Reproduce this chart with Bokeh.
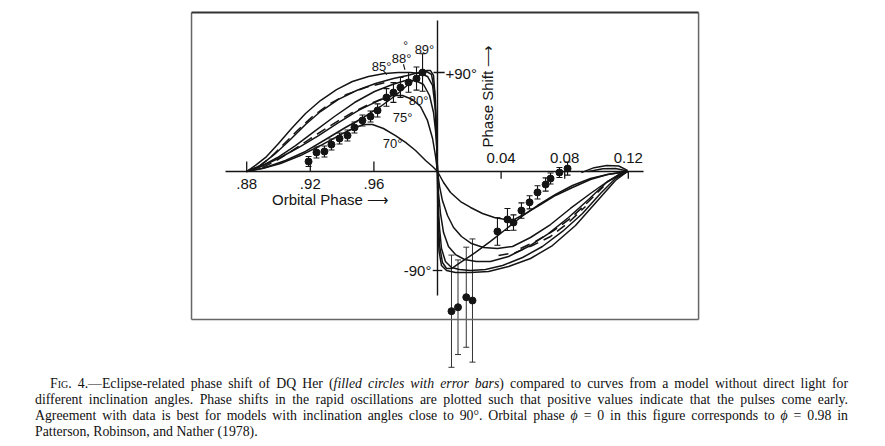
import numpy as np
from bokeh.plotting import figure
from bokeh.models import Range1d, ColumnDataSource, Whisker, TeeHead, Div
from bokeh.layouts import column
from bokeh.core.properties import value
from bokeh.embed import file_html
from bokeh.resources import INLINE

# ---------------- observed phase shifts (orbital phase, degrees, error) ----------------
obs_phase = [-0.0811, -0.0761, -0.0711, -0.0667, -0.0616, -0.0566, -0.0522, -0.0472,
             -0.0421, -0.0377, -0.0321, -0.0277, -0.0233, -0.0182, -0.0132, -0.0094,
             0.0377, 0.0440, 0.0478, 0.0528, 0.0579, 0.0629, 0.0680, 0.0711, 0.0767, 0.0818]
obs_shift = [9.1, 17.3, 18.2, 24.5, 30.0, 32.7, 40.0, 46.4, 50.0, 55.5, 67.3, 71.8, 76.4, 81.0, 84.5, 90.0,
             -54.5, -43.6, -46.4, -35.5, -28.0, -19.0, -11.8, -6.4, -0.9, 2.7]
obs_err = [4.5, 5, 5, 5, 5, 5, 5, 5, 5, 6, 8, 9, 9, 9, 10.5, 17,
           12.5, 10, 7, 7, 6, 6, 6, 5, 4.5, 6]

# points just after mid-eclipse (large errors)
low_phase = [0.0088, 0.0129, 0.0181, 0.0220]
low_shift = [-127.0, -123.4, -114.3, -117.3]
low_err = [51, 43, 45.5, 56]

# ---------------- model curves (orbital phase, phase shift in degrees) ----------------
# ingress side (negative orbital phase)
i70_in_phase = [-0.1201, -0.1101, -0.0987, -0.0862, -0.0736, -0.0610, -0.0516, -0.0465, -0.0409,
                -0.0340, -0.0264, -0.0201, -0.0138, -0.0075, -0.0031, 0.0]
i70_in_shift = [0, 2.7, 7.3, 14.5, 23.6, 33.6, 40.0, 42.7, 42.7, 39.1, 32.7, 26.4, 19.1, 10.0, 4.5, 0]

i75_in_phase = [-0.1201, -0.1113, -0.1000, -0.0874, -0.0748, -0.0623, -0.0497, -0.0371, -0.0283,
                -0.0220, -0.0157, -0.0107, -0.0063, -0.0031, -0.0013, 0.0]
i75_in_shift = [0, 4.5, 11.8, 21.8, 32.7, 44.5, 55.5, 64.5, 69.1, 69.1, 65.5, 59.1, 46.4, 30.0, 14.5, 0]

i80_in_phase = [-0.1201, -0.1113, -0.1006, -0.0893, -0.0774, -0.0648, -0.0522, -0.0396, -0.0283,
                -0.0201, -0.0138, -0.0088, -0.0050, -0.0025, -0.0006, 0.0]
i80_in_shift = [0, 4.5, 12.7, 23.6, 36.4, 50.0, 62.7, 72.7, 79.1, 82.7, 82.7, 79.1, 69.1, 53.6, 28.2, 0]

i85_in_phase = [-0.1201, -0.1145, -0.1075, -0.1000, -0.0918, -0.0830, -0.0736, -0.0635, -0.0535,
                -0.0434, -0.0333, -0.0245, -0.0170, -0.0107, -0.0063, -0.0031, -0.0013, 0.0]
i85_in_shift = [0, 5.5, 13.6, 25.5, 39.1, 52.7, 64.5, 74.5, 81.8, 86.4, 89.1, 90.0, 90.0, 89.1,
                86.4, 78.2, 55.5, 0]

i88_in_phase = [-0.1201, -0.1113, -0.1019, -0.0925, -0.0830, -0.0736, -0.0623, -0.0509, -0.0390,
                -0.0277, -0.0189, -0.0119, -0.0069, -0.0038, -0.0019, -0.0006, 0.0]
i88_in_shift = [0, 5.5, 16.4, 29.1, 42.7, 54.5, 65.5, 73.6, 80.0, 84.5, 87.3, 90.0, 90.9, 88.2,
                73.6, 37.3, 0]

i89_in_phase = [-0.1201, -0.1082, -0.0956, -0.0830, -0.0704, -0.0579, -0.0465, -0.0358, -0.0264,
                -0.0170, -0.0107, -0.0069, -0.0044, -0.0025, -0.0013, -0.0006, 0.0]
i89_in_shift = [0, 3.6, 10.0, 18.2, 29.1, 40.0, 49.1, 59.1, 69.1, 80.9, 88.2, 91.8, 91.8, 87.3,
                64.5, 28.2, 0]

dashA_in_phase = [-0.1126, -0.1050, -0.0969, -0.0881, -0.0786, -0.0686, -0.0572, -0.0453, -0.0327]
dashA_in_shift = [4.5, 12.7, 24.5, 37.3, 50.0, 60.9, 70.0, 76.4, 80.9]
dashB_in_phase = [-0.1101, -0.1013, -0.0912, -0.0799, -0.0673, -0.0547, -0.0421, -0.0296]
dashB_in_shift = [3.6, 10.0, 19.1, 30.0, 41.8, 52.7, 61.8, 69.1]

# egress side (positive orbital phase)
i70_eg_phase = [0.0, 0.0038, 0.0082, 0.0145, 0.0208, 0.0283, 0.0358, 0.0428, 0.0484, 0.0553,
                0.0648, 0.0742, 0.0849, 0.0962, 0.1069, 0.1151, 0.1195]
i70_eg_shift = [0, -10.0, -19.1, -27.3, -32.7, -38.2, -41.8, -43.6, -43.6, -38.2, -30.0, -21.8,
                -14.5, -7.3, -2.7, -0.9, 0]

i75_eg_phase = [0.0, 0.0013, 0.0031, 0.0063, 0.0101, 0.0151, 0.0214, 0.0289, 0.0377, 0.0472,
                0.0585, 0.0711, 0.0836, 0.0962, 0.1069, 0.1151, 0.1195]
i75_eg_shift = [0, -13.6, -26.4, -40.0, -50.9, -59.1, -65.5, -69.1, -70.0, -68.2, -60.0, -48.2,
                -33.6, -20.0, -9.1, -2.7, 0]

i80_eg_phase = [0.0, 0.0006, 0.0019, 0.0038, 0.0069, 0.0113, 0.0170, 0.0245, 0.0333, 0.0447,
                0.0572, 0.0698, 0.0824, 0.0950, 0.1063, 0.1151, 0.1195]
i80_eg_shift = [0, -19.1, -38.2, -55.5, -68.2, -75.5, -80.0, -81.8, -81.8, -77.3, -68.2, -56.4,
                -41.8, -25.5, -10.0, -1.8, 0]

i85_eg_phase = [0.0, 0.0003, 0.0013, 0.0025, 0.0050, 0.0088, 0.0138, 0.0208, 0.0302, 0.0409,
                0.0535, 0.0660, 0.0786, 0.0912, 0.1025, 0.1119, 0.1195]
i85_eg_shift = [0, -26.4, -51.8, -70.0, -81.8, -87.3, -89.1, -90.0, -89.1, -85.5, -78.2, -68.2,
                -54.5, -38.2, -20.0, -6.4, 0]

i88_eg_phase = [0.0, 0.0003, 0.0013, 0.0031, 0.0057, 0.0088, 0.0145, 0.0239, 0.0333, 0.0428,
                0.0522, 0.0629, 0.0742, 0.0849, 0.0962, 0.1069, 0.1151, 0.1195]
i88_eg_shift = [0, -35.5, -67.3, -82.7, -88.2, -88.2, -82.7, -73.6, -63.6, -52.7, -41.8, -30.9,
                -20.9, -12.7, -6.4, -2.7, -0.9, 0]

i89_eg_phase = [0.0, 0.0002, 0.0009, 0.0025, 0.0057, 0.0113, 0.0208, 0.0321, 0.0447, 0.0585,
                0.0723, 0.0868, 0.1013, 0.1119, 0.1195]
i89_eg_shift = [0, -40.0, -71.8, -85.5, -90.0, -91.8, -91.8, -90.9, -86.4, -79.1, -67.3, -49.1,
                -25.5, -8.2, 0]

dashA_eg_phase = [0.0384, 0.0491, 0.0597, 0.0711, 0.0824, 0.0931]
dashA_eg_shift = [-76.4, -73.6, -67.3, -59.1, -46.4, -31.8]
dashB_eg_phase = [0.0522, 0.0616, 0.0723, 0.0836, 0.0950, 0.1044]
dashB_eg_shift = [-70.0, -63.6, -54.5, -42.7, -27.3, -13.6]
overA_eg_phase = [0.0905, 0.0985, 0.1065, 0.1140, 0.1195]
overA_eg_shift = [-1.0, 3.5, 5.5, 5.0, 1.0]
overB_eg_phase = [0.0950, 0.1040, 0.1120, 0.1195]
overB_eg_shift = [0.0, 2.5, 2.8, 0.5]

# ---------------- axis ticks & labels ----------------
ticks_below = [-0.12, -0.08, -0.04]
ticks_below_labels = [".88", ".92", ".96"]
ticks_above = [0.04, 0.08, 0.12]
ticks_above_labels = ["0.04", "0.08", "0.12"]
incl_labels = ["70°", "75°", "80°", "85°", "88°", "89°"]

# ---------------- figure ----------------
W, H = 885, 372
p = figure(width=W, height=H, output_backend="svg", toolbar_location=None,
           x_range=Range1d(-437 / 1590, (W - 437) / 1590),
           y_range=Range1d((171 - H) / 1.1, 171 / 1.1),
           x_axis_location=None, y_axis_location=None, min_border=0,
           outline_line_color=None, background_fill_color="white",
           border_fill_color="white")
p.xgrid.visible = False
p.ygrid.visible = False
p.min_border_left = p.min_border_right = p.min_border_top = p.min_border_bottom = 0

INK = "#141414"
# outer frame of the figure
fx0, fx1, fy0, fy1 = -0.1547, 0.1642, -134.5, 144.5
p.segment(x0=[fx0, fx0, fx1], y0=[fy0, fy0, fy0], x1=[fx1, fx0, fx1],
          y1=[fy0, fy1, fy1], line_color="#666666", line_width=1.5)
p.segment(x0=[fx0], y0=[fy1], x1=[fx1], y1=[fy1], line_color="#333333", line_width=2.0)

# axes
p.segment(x0=[-0.1333], y0=[0], x1=[0.1296], y1=[0], line_color=INK, line_width=1.5)
p.segment(x0=[0], y0=[137.3], x1=[0], y1=[-112.7], line_color=INK, line_width=1.4)
p.segment(x0=ticks_below, y0=[0] * 3, x1=ticks_below, y1=[9] * 3, line_color=INK, line_width=1.3)
p.segment(x0=ticks_above, y0=[0] * 3, x1=ticks_above, y1=[-6.5] * 3, line_color=INK, line_width=1.3)
p.segment(x0=[-0.0025, -0.003], y0=[90, -90], x1=[0.0045, 0.003], y1=[90, -90],
          line_color=INK, line_width=1.3)

# model curves
solid = [(i70_in_phase, i70_in_shift), (i75_in_phase, i75_in_shift), (i80_in_phase, i80_in_shift),
         (i85_in_phase, i85_in_shift), (i88_in_phase, i88_in_shift), (i89_in_phase, i89_in_shift),
         (i70_eg_phase, i70_eg_shift), (i75_eg_phase, i75_eg_shift), (i80_eg_phase, i80_eg_shift),
         (i85_eg_phase, i85_eg_shift), (i88_eg_phase, i88_eg_shift), (i89_eg_phase, i89_eg_shift),
         (overA_eg_phase, overA_eg_shift), (overB_eg_phase, overB_eg_shift)]
for xs, ys in solid:
    p.line(xs, ys, line_color=INK, line_width=1.5)
dashed = [(dashA_in_phase, dashA_in_shift), (dashB_in_phase, dashB_in_shift),
          (dashA_eg_phase, dashA_eg_shift), (dashB_eg_phase, dashB_eg_shift)]
for xs, ys in dashed:
    p.line(xs, ys, line_color=INK, line_width=1.5, line_dash="10 6")

# observations with error bars
src = ColumnDataSource(dict(x=obs_phase, y=obs_shift,
                            lo=[s - e for s, e in zip(obs_shift, obs_err)],
                            hi=[s + e for s, e in zip(obs_shift, obs_err)]))
p.add_layout(Whisker(source=src, base="x", lower="lo", upper="hi", dimension="height",
                     line_color=INK, line_width=1.1,
                     lower_head=TeeHead(size=6, line_color=INK, line_width=1.1),
                     upper_head=TeeHead(size=6, line_color=INK, line_width=1.1)))
p.scatter("x", "y", source=src, size=7, color=INK)

src2 = ColumnDataSource(dict(x=low_phase, y=low_shift,
                             lo=[s - e for s, e in zip(low_shift, low_err)],
                             hi=[s + e for s, e in zip(low_shift, low_err)]))
p.add_layout(Whisker(source=src2, base="x", lower="lo", upper="hi", dimension="height",
                     line_color="#333333", line_width=1.0,
                     lower_head=TeeHead(size=6, line_color="#333333", line_width=1.0),
                     upper_head=TeeHead(size=6, line_color="#333333", line_width=1.0)))
p.scatter("x", "y", source=src2, size=7, color=INK)

SANS = value("Liberation Sans")
p.text(x=ticks_below, y=[-11.8] * 3, text=ticks_below_labels, text_font=SANS,
       text_font_size="15px", text_align="center", text_baseline="middle", text_color=INK)
p.text(x=ticks_above, y=[12.7] * 3, text=ticks_above_labels, text_font=SANS,
       text_font_size="15px", text_align="center", text_baseline="middle", text_color=INK)
p.text(x=[-0.0673], y=[-25.5], text=["Orbital Phase \u27f6"], text_font=SANS,
       text_font_size="15px", text_align="center", text_baseline="middle", text_color=INK)
p.text(x=[0.0050], y=[89], text=["+90°"], text_font=SANS, text_font_size="15px",
       text_align="left", text_baseline="middle", text_color=INK)
p.text(x=[-0.0038], y=[-90], text=["-90°"], text_font=SANS, text_font_size="15px",
       text_align="right", text_baseline="middle", text_color=INK)
p.text(x=[0.0314], y=[21.8], text=["Phase Shift \u27f6"], text_font=SANS, text_font_size="15px",
       text_align="left", text_baseline="middle", angle=np.pi / 2, text_color=INK)
p.text(x=[-0.0283, -0.0220, -0.0119, -0.0352, -0.0226, -0.0082],
       y=[25.5, 49.1, 64.5, 95.5, 102.3, 110.9], text=incl_labels, text_font=SANS,
       text_font_size="13px", text_align="center", text_baseline="middle", text_color=INK)
p.text(x=[-0.0201], y=[114.5], text=["°"], text_font=SANS, text_font_size="12px",
       text_align="center", text_baseline="middle", text_color=INK)
# label pointers
p.segment(x0=[-0.0340, -0.0214], y0=[91.5, 97.5], x1=[-0.0318, -0.0205], y1=[88.0, 92.5],
          line_color=INK, line_width=1.1)

# ---------------- caption (one block per printed line, justified) ----------------
caption_lines = [
    '<span style="font-variant: small-caps;">Fig.</span> 4.\u2014Eclipse-related phase shift of DQ Her '
    '(<i>filled circles with error bars</i>) compared to curves from a model without direct light for',
    'different inclination angles. Phase shifts in the rapid oscillations are plotted such that positive '
    'values indicate that the pulses come early.',
    'Agreement with data is best for models with inclination angles close to 90\u00b0. Orbital phase '
    '<i>\u03d5</i> = 0 in this figure corresponds to <i>\u03d5</i> = 0.98 in',
    'Patterson, Robinson, and Nather (1978).',
]
line_style = ("white-space: nowrap; height: 16px; line-height: 16px; overflow: visible; "
              "text-align: justify; text-align-last: justify;")
blocks = []
for k, ln in enumerate(caption_lines):
    indent = "margin-left: 15px; width: 798px;" if k == 0 else "width: 813px;"
    last = "text-align-last: left; text-align: left;" if k == len(caption_lines) - 1 else ""
    blocks.append(f'<div style="{line_style} {indent} {last}">{ln}</div>')
caption = ('<div style="font-family: \'Liberation Serif\', \'Times New Roman\', serif; '
           'font-size: 13.8px; margin-left: 35px; padding-top: 4px; color: #111;">'
           + "".join(blocks) + '</div>')
div = Div(text=caption, width=W, height=446 - H, margin=(0, 0, 0, 0))

layout = column(p, div, spacing=0)
open("out.html", "w").write(file_html(layout, INLINE))
